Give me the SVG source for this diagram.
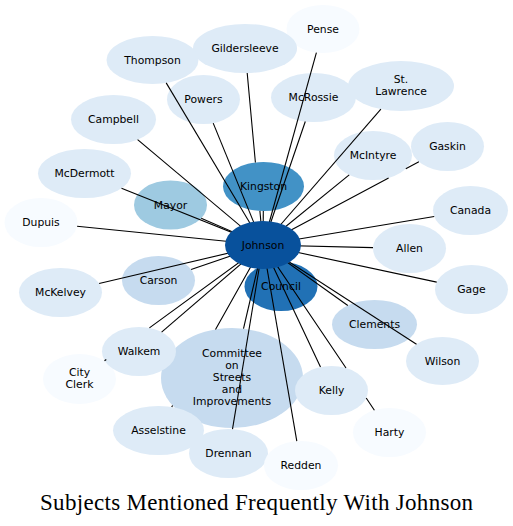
<svg xmlns="http://www.w3.org/2000/svg" width="513" height="526" viewBox="0 0 513 526">
<style>
.n text{font-family:"DejaVu Sans","Liberation Sans",sans-serif;font-size:10.8px;fill:#000;text-anchor:middle}
.c0{fill:#f7fbff}.c1{fill:#deebf7}.c2{fill:#c6dbef}.c3{fill:#9ecae1}.c4{fill:#4292c6}.c5{fill:#2171b5}.c6{fill:#08519c}
#edges path{fill:none;stroke:#000;stroke-width:1.1}
.title{font-family:"Liberation Serif","DejaVu Serif",serif;font-size:23px;fill:#000;text-anchor:middle}
</style>
<rect width="513" height="526" fill="#fff"/>
<g id="nodes">
<g id="n-pense" class="n"><ellipse class="c0" cx="323" cy="29" rx="36.5" ry="24"/><text x="323" y="32.6">Pense</text></g>
<g id="n-gildersleeve" class="n"><ellipse class="c1" cx="245" cy="48.5" rx="52" ry="24.5"/><text x="245" y="52.1">Gildersleeve</text></g>
<g id="n-thompson" class="n"><ellipse class="c1" cx="152.5" cy="60" rx="46" ry="24"/><text x="152.5" y="63.6">Thompson</text></g>
<g id="n-powers" class="n"><ellipse class="c1" cx="203.5" cy="99.5" rx="36.5" ry="24.5"/><text x="203.5" y="103.1">Powers</text></g>
<g id="n-campbell" class="n"><ellipse class="c1" cx="113.5" cy="119.5" rx="42.5" ry="24.5"/><text x="113.5" y="123.1">Campbell</text></g>
<g id="n-mcdermott" class="n"><ellipse class="c1" cx="84.5" cy="173.5" rx="46.5" ry="24.5"/><text x="84.5" y="177.1">McDermott</text></g>
<g id="n-mayor" class="n"><ellipse class="c3" cx="170.5" cy="205" rx="36.5" ry="24.5"/><text x="170.5" y="208.6">Mayor</text></g>
<g id="n-dupuis" class="n"><ellipse class="c0" cx="41" cy="222.5" rx="36.5" ry="24.5"/><text x="41" y="226.1">Dupuis</text></g>
<g id="n-kingston" class="n"><ellipse class="c4" cx="263.5" cy="186.5" rx="40.5" ry="24.5"/><text x="263.5" y="190.1">Kingston</text></g>
<g id="n-mcrossie" class="n"><ellipse class="c1" cx="313.5" cy="97.5" rx="42.5" ry="24.5"/><text x="313.5" y="101.1">McRossie</text></g>
<g id="n-stlawrence" class="n"><ellipse class="c1" cx="401" cy="86" rx="53" ry="25"/><text x="401" y="82.5">St.</text><text x="401" y="94.5">Lawrence</text></g>
<g id="n-gaskin" class="n"><ellipse class="c1" cx="447.5" cy="146.5" rx="36.5" ry="24.5"/><text x="447.5" y="150.1">Gaskin</text></g>
<g id="n-mcintyre" class="n"><ellipse class="c1" cx="373" cy="155.5" rx="39" ry="24.5"/><text x="373" y="159.1">McIntyre</text></g>
<g id="n-canada" class="n"><ellipse class="c1" cx="470.5" cy="210.5" rx="37.5" ry="24.5"/><text x="470.5" y="214.1">Canada</text></g>
<g id="n-allen" class="n"><ellipse class="c1" cx="409.5" cy="248.5" rx="36.5" ry="24.5"/><text x="409.5" y="252.1">Allen</text></g>
<g id="n-gage" class="n"><ellipse class="c1" cx="471.5" cy="289.5" rx="36.5" ry="24.5"/><text x="471.5" y="293.1">Gage</text></g>
<g id="n-council" class="n"><ellipse class="c5" cx="281" cy="286.5" rx="36.5" ry="24.5"/><text x="281" y="290.1">Council</text></g>
<g id="n-clements" class="n"><ellipse class="c2" cx="374.5" cy="324.5" rx="42.5" ry="24.5"/><text x="374.5" y="328.1">Clements</text></g>
<g id="n-wilson" class="n"><ellipse class="c1" cx="442.5" cy="361" rx="36.5" ry="24"/><text x="442.5" y="364.6">Wilson</text></g>
<g id="n-harty" class="n"><ellipse class="c0" cx="389.5" cy="432.5" rx="36.5" ry="24.5"/><text x="389.5" y="436.1">Harty</text></g>
<g id="n-committee" class="n"><ellipse class="c2" cx="232" cy="378" rx="71" ry="50"/><text x="232" y="356.5">Committee</text><text x="232" y="368.5">on</text><text x="232" y="380.5">Streets</text><text x="232" y="392.5">and</text><text x="232" y="404.5">Improvements</text></g>
<g id="n-kelly" class="n"><ellipse class="c1" cx="331.5" cy="390.5" rx="36.5" ry="24.5"/><text x="331.5" y="394.1">Kelly</text></g>
<g id="n-carson" class="n"><ellipse class="c2" cx="158.5" cy="280.5" rx="36.5" ry="24.5"/><text x="158.5" y="284.1">Carson</text></g>
<g id="n-mckelvey" class="n"><ellipse class="c1" cx="60.5" cy="292.5" rx="41.5" ry="24.5"/><text x="60.5" y="296.1">McKelvey</text></g>
<g id="n-cityclerk" class="n"><ellipse class="c0" cx="79.5" cy="379" rx="36.5" ry="25"/><text x="79.5" y="376">City</text><text x="79.5" y="388">Clerk</text></g>
<g id="n-walkem" class="n"><ellipse class="c1" cx="139" cy="351.5" rx="37" ry="24.5"/><text x="139" y="355.1">Walkem</text></g>
<g id="n-asselstine" class="n"><ellipse class="c1" cx="158.5" cy="430.5" rx="45.5" ry="24.5"/><text x="158.5" y="434.1">Asselstine</text></g>
<g id="n-drennan" class="n"><ellipse class="c1" cx="228.5" cy="453.5" rx="39.5" ry="24.5"/><text x="228.5" y="457.1">Drennan</text></g>
<g id="n-redden" class="n"><ellipse class="c0" cx="301" cy="465.5" rx="37" ry="24.5"/><text x="301" y="469.1">Redden</text></g>
</g>
<g id="edges">
<path d="M263 245L316.4 52.6"/>
<path d="M263 245L259.9 210.9M255.4 162.5L247.2 73"/>
<path d="M263 245L166.2 82.9"/>
<path d="M263 245L213.2 123.1"/>
<path d="M263 245L137.6 139.7"/>
<path d="M263 245L121.5 188.3"/>
<path d="M263 245L201.2 218.3"/>
<path d="M263 245L77.1 226.2"/>
<path d="M263 245L263.3 210.9"/>
<path d="M263 245L305.3 121.5"/>
<path d="M263 245L380.9 109.1"/>
<path d="M263 245L349.2 174.9"/>
<path d="M263 245L388.6 177.9M405.8 168.8L418.9 161.8"/>
<path d="M263 245L434.2 216.5"/>
<path d="M263 245L373 247.6"/>
<path d="M263 245L436.7 282.1"/>
<path d="M263 245L270.8 263"/>
<path d="M263 245L347.8 305.5"/>
<path d="M263 245L416.5 344.2"/>
<path d="M263 245L320.5 367.1"/>
<path d="M263 245L346 368M366.2 398L374.4 410.2"/>
<path d="M263 245L296.8 441.2"/>
<path d="M263 245L232.5 429.1"/>
<path d="M263 245L243.5 328.7"/>
<path d="M263 245L215.5 329.4M172.6 405.4L171.7 407.1"/>
<path d="M263 245L161.6 332.1"/>
<path d="M263 245L149.4 327.9M106.3 359.5L104.5 360.8"/>
<path d="M263 245L191.1 269.4"/>
<path d="M263 245L99.1 283.5"/>
</g>
<g id="n-johnson" class="n"><ellipse class="c6" cx="263" cy="245" rx="38" ry="24"/><text x="263" y="248.6">Johnson</text></g>
<text class="title" x="256.5" y="509.5" textLength="433" lengthAdjust="spacing">Subjects Mentioned Frequently With Johnson</text>
</svg>
